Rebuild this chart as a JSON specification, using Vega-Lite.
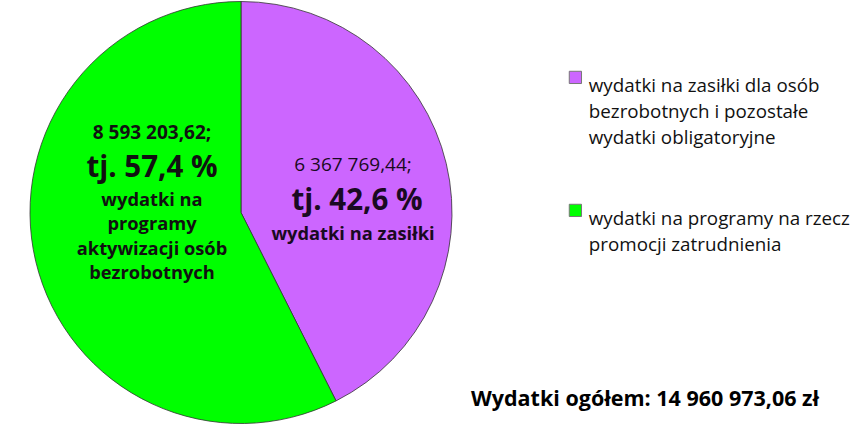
{
  "$schema": "https://vega.github.io/schema/vega-lite/v6.json",
  "width": 482,
  "height": 425,
  "autosize": {"type": "none"},
  "padding": {"left": 0, "top": 0, "right": 374, "bottom": 0},
  "background": "white",
  "config": {
    "view": {"stroke": null},
    "font": "Open Sans",
    "style": {"guide-label": {"lineHeight": 26}}
  },
  "title": {
    "text": "Wydatki ogółem:  14 960 973,06 zł",
    "orient": "bottom",
    "anchor": "start",
    "frame": "group",
    "offset": -36,
    "dx": 471,
    "font": "Open Sans",
    "fontSize": 21.5,
    "fontWeight": "bold",
    "color": "#000000"
  },
  "data": {
    "values": [
      {"kategoria": "wydatki na zasiłki dla osób bezrobotnych i pozostałe wydatki obligatoryjne", "wartosc": 6367769.44, "kwota": "6 367 769,44;", "procent": "tj. 42,6 %", "opis": "wydatki na zasiłki"},
      {"kategoria": "wydatki na programy na rzecz promocji zatrudnienia", "wartosc": 8593203.62, "kwota": "8 593 203,62;", "procent": "tj. 57,4 %", "opis": "wydatki na\nprogramy\naktywizacji osób\nbezrobotnych"}
    ]
  },
  "encoding": {
    "theta": {"field": "wartosc", "type": "quantitative", "stack": true},
    "order": {"field": "wartosc", "type": "quantitative", "sort": "ascending"}
  },
  "layer": [
    {
      "mark": {"type": "arc", "radius": 211, "stroke": "#333333", "strokeWidth": 0.8},
      "encoding": {
        "color": {
          "field": "kategoria",
          "type": "nominal",
          "sort": ["wydatki na zasiłki dla osób bezrobotnych i pozostałe wydatki obligatoryjne", "wydatki na programy na rzecz promocji zatrudnienia"],
          "scale": {"range": ["#CC66FF", "#00FF00"]},
          "legend": {
            "orient": "none",
            "legendX": 566,
            "legendY": 68,
            "title": null,
            "symbolType": "square",
            "symbolSize": 150,
            "symbolStrokeColor": "#777777",
            "symbolStrokeWidth": 1,
            "labelFont": "Open Sans",
            "labelFontSize": 18.8,
            "labelColor": "#111111",
            "labelBaseline": "top",
            "labelLimit": 300,
            "labelOffset": 4,
            "rowPadding": 52,
            "labelExpr": "datum.label == 'wydatki na programy na rzecz promocji zatrudnienia' ? ['wydatki na programy na rzecz', 'promocji zatrudnienia'] : ['wydatki na zasiłki dla osób', 'bezrobotnych i pozostałe', 'wydatki obligatoryjne']"
          }
        }
      }
    },
    {
      "transform": [{"filter": "datum.wartosc > 8000000"}],
      "mark": {"type": "text", "radius": 0, "dx": -89, "dy": -80, "font": "Open Sans", "fontSize": 19, "fontWeight": "bold", "color": "#111111"},
      "encoding": {"text": {"field": "kwota"}}
    },
    {
      "transform": [{"filter": "datum.wartosc > 8000000"}],
      "mark": {"type": "text", "radius": 0, "dx": -89, "dy": -45, "font": "Open Sans", "fontSize": 29.5, "fontWeight": "bold", "color": "#111111"},
      "encoding": {"text": {"field": "procent"}}
    },
    {
      "transform": [{"filter": "datum.wartosc > 8000000"}],
      "mark": {"type": "text", "radius": 0, "dx": -89, "dy": -12, "baseline": "middle", "lineBreak": "\n", "lineHeight": 24.5, "font": "Open Sans", "fontSize": 18.3, "fontWeight": "bold", "color": "#111111"},
      "encoding": {"text": {"field": "opis"}}
    },
    {
      "transform": [{"filter": "datum.wartosc < 8000000"}],
      "mark": {"type": "text", "radius": 0, "dx": 112, "dy": -48, "font": "Open Sans", "fontSize": 19, "fontWeight": "normal", "color": "#1a0a22"},
      "encoding": {"text": {"field": "kwota"}}
    },
    {
      "transform": [{"filter": "datum.wartosc < 8000000"}],
      "mark": {"type": "text", "radius": 0, "dx": 116, "dy": -12, "font": "Open Sans", "fontSize": 29.5, "fontWeight": "bold", "color": "#1a0a22"},
      "encoding": {"text": {"field": "procent"}}
    },
    {
      "transform": [{"filter": "datum.wartosc < 8000000"}],
      "mark": {"type": "text", "radius": 0, "dx": 112, "dy": 22, "font": "Open Sans", "fontSize": 18.3, "fontWeight": "bold", "color": "#1a0a22"},
      "encoding": {"text": {"field": "opis"}}
    }
  ]
}
